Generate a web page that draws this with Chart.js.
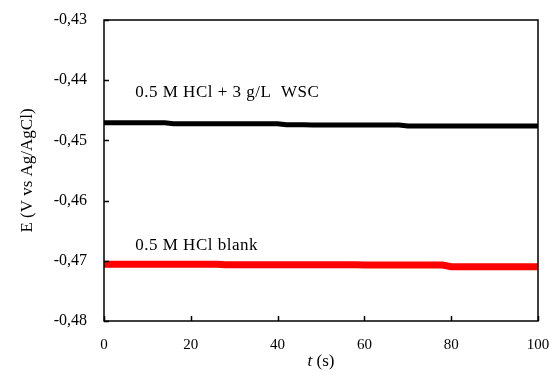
<!DOCTYPE html>
<html>
<head>
<meta charset="utf-8">
<script src="https://cdn.jsdelivr.net/npm/chart.js@4.4.1/dist/chart.umd.min.js"></script>
<style>
  html, body { margin: 0; padding: 0; background: #fff; }
  #wrap { width: 552px; height: 379px; }
</style>
</head>
<body>
<div id="wrap"><canvas id="chart" width="552" height="379"></canvas></div>
<script>
// time axis (s), every 2 s
const times = [0, 2, 4, 6, 8, 10, 12, 14, 16, 18, 20, 22, 24, 26, 28, 30, 32, 34, 36, 38, 40,
  42, 44, 46, 48, 50, 52, 54, 56, 58, 60, 62, 64, 66, 68, 70, 72, 74, 76, 78, 80,
  82, 84, 86, 88, 90, 92, 94, 96, 98, 100];

// 0.5 M HCl + 3 g/L WSC
const wscValues = [
  -0.44706, -0.44706, -0.44706, -0.44706, -0.44706, -0.44706, -0.44706, -0.44706,
  -0.44722, -0.44722, -0.44722, -0.44722, -0.44722, -0.44722, -0.44722, -0.44722, -0.44722, -0.44722, -0.44722, -0.44722, -0.44722,
  -0.44739, -0.44739, -0.44739,
  -0.44744, -0.44744, -0.44744, -0.44744, -0.44744, -0.44744, -0.44744, -0.44744, -0.44744, -0.44744, -0.44744,
  -0.44761, -0.44761, -0.44761, -0.44761, -0.44761, -0.44761, -0.44761, -0.44761, -0.44761, -0.44761, -0.44761, -0.44761, -0.44761, -0.44761, -0.44761, -0.44761
];

// 0.5 M HCl blank
const blankValues = [
  -0.47059, -0.47059, -0.47059, -0.47059, -0.47059, -0.47059, -0.47059, -0.47059, -0.47059, -0.47059, -0.47059, -0.47059, -0.47059, -0.47059,
  -0.47066, -0.47066, -0.47066, -0.47066, -0.47066, -0.47066, -0.47066, -0.47066, -0.47066, -0.47066, -0.47066, -0.47066, -0.47066, -0.47066, -0.47066, -0.47066,
  -0.47071, -0.47071, -0.47071, -0.47071, -0.47071, -0.47071, -0.47071, -0.47071, -0.47071, -0.47071,
  -0.47097, -0.47097, -0.47097, -0.47097, -0.47097, -0.47097, -0.47097, -0.47097, -0.47097, -0.47097, -0.47097
];

const xTicks = [0, 20, 40, 60, 80, 100];
const yTicks = [-0.48, -0.47, -0.46, -0.45, -0.44, -0.43];

const seriesLabels = ['0.5 M HCl + 3 g/L  WSC', '0.5 M HCl blank'];
// where the series labels sit, in data units
const labelAnchors = [{ x: 7.2, y: -0.4428 }, { x: 7.2, y: -0.4682 }];

const SERIF = '"Liberation Serif", "DejaVu Serif", serif';

function toPoints(vals) {
  return vals.map((v, i) => ({ x: times[i], y: v }));
}

// frame, inward ticks, series labels and axis titles
const decorations = {
  id: 'decorations',
  afterDraw(chart) {
    const { ctx, chartArea: a, scales: { x, y } } = chart;
    ctx.save();
    ctx.strokeStyle = '#000';
    ctx.lineWidth = 1.5;
    ctx.strokeRect(a.left, a.top, a.right - a.left, a.bottom - a.top);

    ctx.beginPath();
    xTicks.forEach(t => {
      const px = Math.round(x.getPixelForValue(t)) + 0.5;
      ctx.moveTo(px, a.bottom);
      ctx.lineTo(px, a.bottom - 5);
    });
    yTicks.forEach(t => {
      const py = Math.round(y.getPixelForValue(t)) + 0.5;
      ctx.moveTo(a.left, py);
      ctx.lineTo(a.left + 5, py);
    });
    ctx.stroke();

    ctx.fillStyle = '#000';
    ctx.font = '17px ' + SERIF;
    ctx.textAlign = 'left';
    ctx.textBaseline = 'alphabetic';
    ctx.letterSpacing = '0.5px';
    seriesLabels.forEach((txt, i) => {
      ctx.fillText(txt, x.getPixelForValue(labelAnchors[i].x), y.getPixelForValue(labelAnchors[i].y));
    });
    ctx.letterSpacing = '0px';

    // x axis title: italic t
    const cx = (a.left + a.right) / 2;
    const italic = 'italic 17px ' + SERIF;
    const upright = '17px ' + SERIF;
    ctx.font = italic;
    const w1 = ctx.measureText('t').width;
    ctx.font = upright;
    const w2 = ctx.measureText(' (s)').width;
    const startX = cx - (w1 + w2) / 2;
    ctx.font = italic;
    ctx.fillText('t', startX, 366);
    ctx.font = upright;
    ctx.fillText(' (s)', startX + w1, 366);

    // y axis title
    ctx.translate(32, (a.top + a.bottom) / 2);
    ctx.rotate(-Math.PI / 2);
    ctx.textAlign = 'center';
    ctx.font = '17px ' + SERIF;
    ctx.fillText('E (V vs Ag/AgCl)', 0, 0);
    ctx.restore();
  }
};

new Chart(document.getElementById('chart'), {
  type: 'line',
  data: {
    datasets: [
      {
        label: seriesLabels[0],
        data: toPoints(wscValues),
        borderColor: '#000000',
        borderWidth: 5,
        borderCapStyle: 'round',
        pointRadius: 0,
        tension: 0
      },
      {
        label: seriesLabels[1],
        data: toPoints(blankValues),
        borderColor: '#ff0000',
        borderWidth: 7,
        borderCapStyle: 'round',
        pointRadius: 0,
        tension: 0
      }
    ]
  },
  options: {
    responsive: false,
    animation: false,
    layout: { padding: { top: 20, right: 14, left: 0, bottom: 0 } },
    plugins: { legend: { display: false }, tooltip: { enabled: false } },
    scales: {
      x: {
        type: 'linear',
        min: 0,
        max: 100,
        afterBuildTicks: s => { s.ticks = xTicks.map(v => ({ value: v })); },
        afterFit: s => { s.height = 58; s.paddingLeft = 0; s.paddingRight = 0; },
        grid: { display: false },
        border: { display: false },
        ticks: { color: '#000', padding: 7, maxRotation: 0, font: { family: SERIF, size: 15 } }
      },
      y: {
        min: -0.48,
        max: -0.43,
        afterBuildTicks: s => { s.ticks = yTicks.map(v => ({ value: v })); },
        afterFit: s => { s.width = 104; s.paddingTop = 0; s.paddingBottom = 0; },
        grid: { display: false },
        border: { display: false },
        ticks: {
          color: '#000',
          padding: 9,
          font: { family: SERIF, size: 16 },
          callback: v => v.toFixed(2).replace('.', ',')
        }
      }
    }
  },
  plugins: [decorations]
});
</script>
</body>
</html>
